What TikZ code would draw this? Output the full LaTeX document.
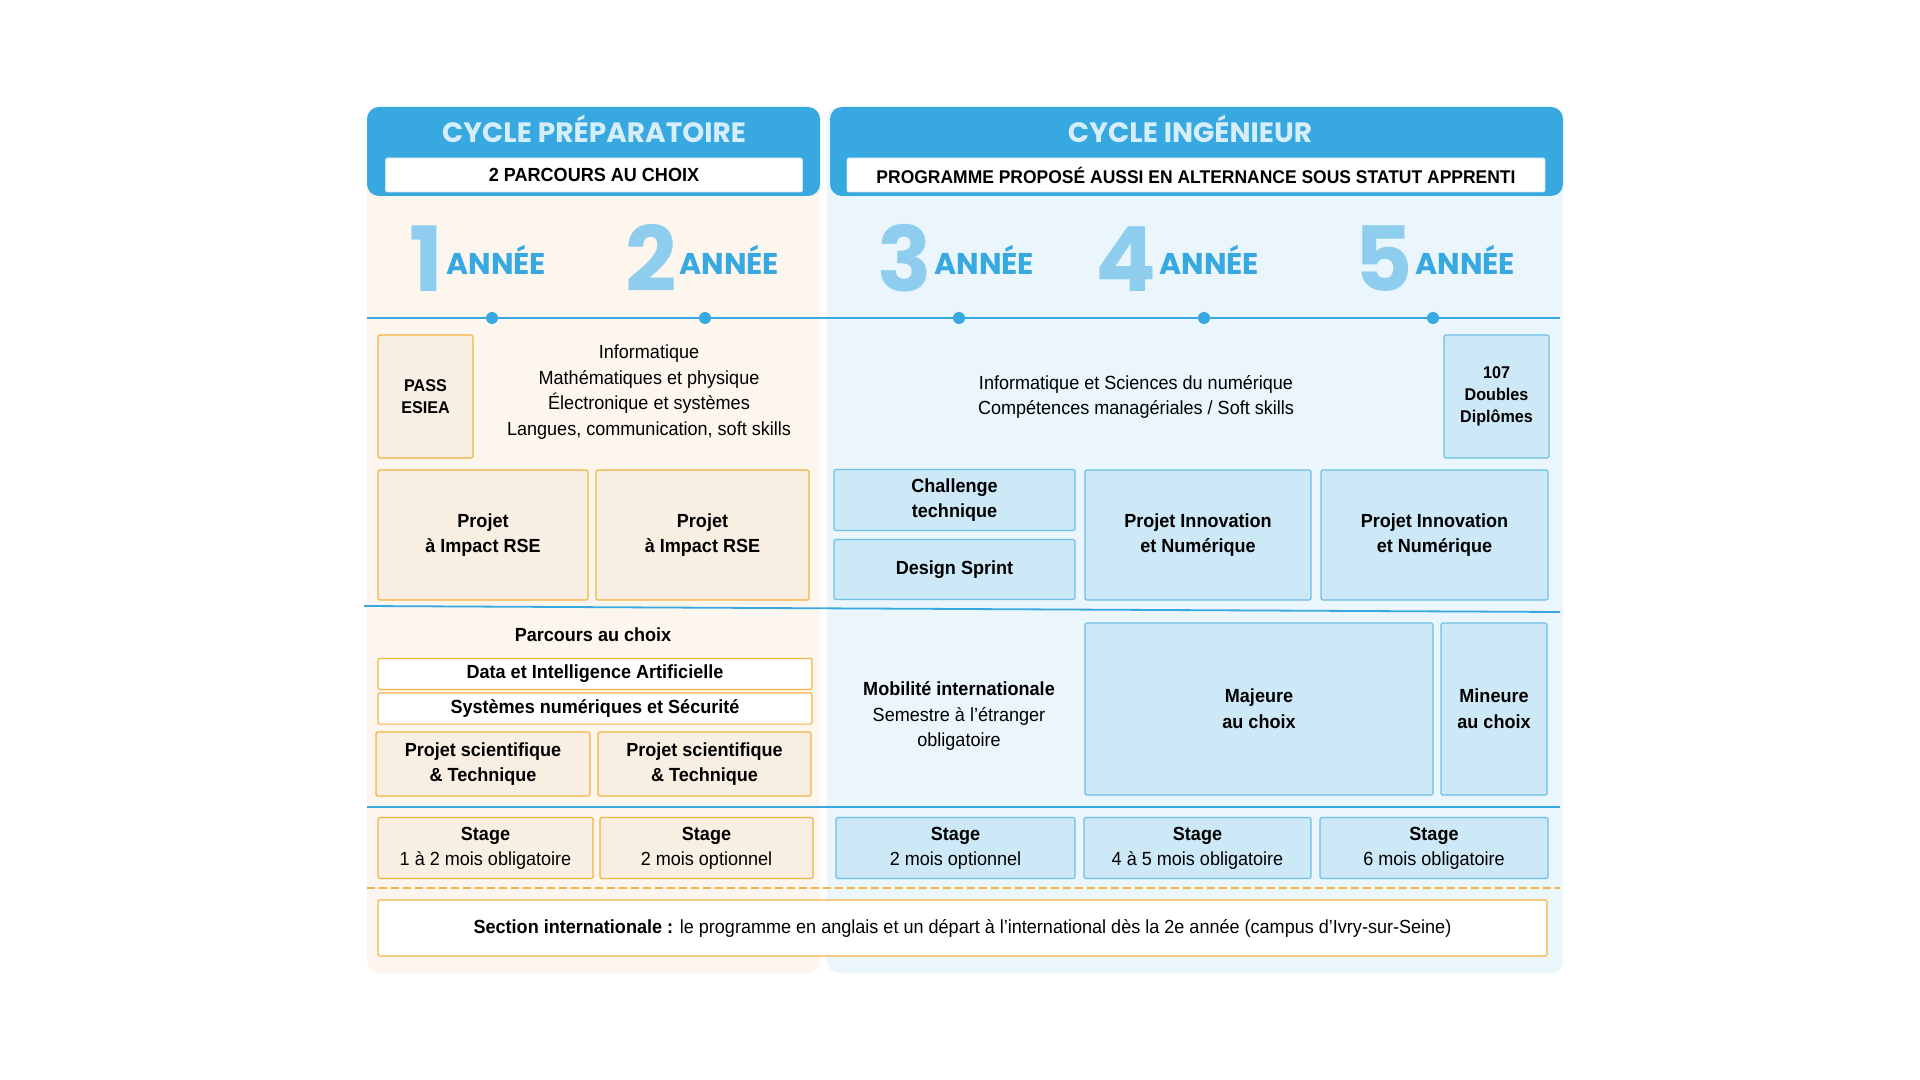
\documentclass[tikz,border=0pt]{standalone}
\usepackage{fontspec}
\setmainfont[FakeStretch=0.95]{Liberation Sans}
\newfontfamily\pop{Poppins}
\definecolor{hb}{HTML}{38A8E0}
\definecolor{lb}{HTML}{CDE8F6}
\definecolor{lbd}{HTML}{6DC0EA}
\definecolor{bg1}{HTML}{FCF6EE}
\definecolor{bg2}{HTML}{EAF5FC}
\definecolor{ob}{HTML}{F5B342}
\definecolor{bf}{HTML}{F8EEE2}
\definecolor{tt}{HTML}{D6EEFA}
\definecolor{num}{HTML}{8FCDEE}
\begin{document}
\begin{tikzpicture}[x=0.5pt,y=-0.5pt,
  bx/.style={draw,line width=0.6pt,rounded corners=1pt,align=center,font=\fontsize{9.5}{12.5}\selectfont},
  ob/.style={bx,draw=ob,fill=bf},
  bb/.style={bx,draw=lbd,fill=lb},
  wb/.style={bx,draw=ob,fill=white},
  txt/.style={align=center,font=\fontsize{9.5}{12.8}\selectfont},
  yr/.style={font=\pop\bfseries\fontsize{15}{16}\selectfont,text=hb,anchor=base west,inner sep=0},
  nm/.style={font=\pop\bfseries\fontsize{45}{45}\selectfont,text=num,anchor=base east,inner sep=0},
  dot/.style={circle,fill=hb,inner sep=0,minimum size=6pt}]
\useasboundingbox (0,0) rectangle (1920,1080);
\fill[white] (0,0) rectangle (1920,1080);
% panels
\fill[bg1,rounded corners=6pt] (367,107) rectangle (820,973);
\fill[bg2,rounded corners=6pt] (827,107) rectangle (1563,973);
\fill[hb,rounded corners=6pt] (367,107) rectangle (820,196);
\fill[hb,rounded corners=6pt] (830,107) rectangle (1563,196);
\node[font=\pop\bfseries\fontsize{14}{14}\selectfont,text=tt] (t1) at (594,129) {CYCLE PRÉPARATOIRE};
\node[font=\pop\bfseries\fontsize{14}{14}\selectfont,text=tt] (t2) at (1190,129) {CYCLE INGÉNIEUR};
\node[draw=lb,fill=white,rounded corners=1pt,minimum width=417*0.5pt,minimum height=34*0.5pt,font=\bfseries\fontsize{9.5}{10}\selectfont] (s1) at (594,175) {2 PARCOURS AU CHOIX};
\node[draw=lb,fill=white,rounded corners=1pt,minimum width=698*0.5pt,minimum height=34*0.5pt,font=\bfseries\fontsize{9.2}{10}\selectfont] (s2) at (1196,175) {PROGRAMME PROPOSÉ AUSSI EN ALTERNANCE SOUS STATUT APPRENTI};
% years
\foreach \n/\x in {1/444,2/677,3/932,4/1157,5/1413}{
  \node[nm] (n\n) at (\x,292) {\n};
  \node[yr] (a\n) at (\x+2,275) {ANNÉE};
}
% timeline
\coordinate (tl) at (367,318); \coordinate (tr) at (1560,318);
\draw[hb,line width=1pt] (tl) -- (tr);
\foreach \i/\x in {1/492,2/705,3/959,4/1204,5/1433} \node[dot] (d\i) at (\x,318) {};
% row 1
\node[ob,minimum width=95*0.5pt,minimum height=123*0.5pt,font=\bfseries\fontsize{8.5}{11}\selectfont] (pass) at (425.5,396.5) {PASS\\ESIEA};
\node[txt] (c1) at (649,392) {Informatique\\Mathématiques et physique\\Électronique et systèmes\\Langues, communication, soft skills};
\node[txt] (c2) at (1136,397) {Informatique et Sciences du numérique\\Compétences managériales / Soft skills};
\node[bb,minimum width=105*0.5pt,minimum height=123*0.5pt,font=\bfseries\fontsize{8.5}{11}\selectfont] (dd) at (1496.5,396.5) {107\\Doubles\\Diplômes};
% row 2
\tikzset{r2/.style={minimum height=130*0.5pt,font=\bfseries\fontsize{9.5}{12.8}\selectfont}}
\node[ob,r2,minimum width=210*0.5pt] (p1) at (483,535) {Projet\\à Impact RSE};
\node[ob,r2,minimum width=213*0.5pt] (p2) at (702.5,535) {Projet\\à Impact RSE};
\node[bb,minimum width=241*0.5pt,minimum height=61*0.5pt,font=\bfseries\fontsize{9.5}{12.8}\selectfont] (ch) at (954.5,500) {Challenge\\technique};
\node[bb,minimum width=241*0.5pt,minimum height=60*0.5pt,font=\bfseries\fontsize{9.5}{12.8}\selectfont] (ds) at (954.5,569.5) {Design Sprint};
\node[bb,r2,minimum width=226*0.5pt] (pi1) at (1198,535) {Projet Innovation\\et Numérique};
\node[bb,r2,minimum width=227*0.5pt] (pi2) at (1434.5,535) {Projet Innovation\\et Numérique};
\coordinate (l1a) at (364,606); \coordinate (l1b) at (1560,612);
\draw[hb,line width=0.9pt] (l1a) -- (l1b);
% row 3
\node[font=\bfseries\fontsize{9.5}{12}\selectfont] (pc) at (593,635) {Parcours au choix};
\node[wb,minimum width=434*0.5pt,minimum height=30*0.5pt,font=\bfseries\fontsize{9.5}{10}\selectfont] (dia) at (595,674) {Data et Intelligence Artificielle};
\node[wb,minimum width=434*0.5pt,minimum height=31*0.5pt,font=\bfseries\fontsize{9.5}{10}\selectfont] (sns) at (595,708.5) {Systèmes numériques et Sécurité};
\node[ob,minimum width=214*0.5pt,minimum height=64*0.5pt,font=\bfseries\fontsize{9.5}{12.8}\selectfont] (ps1) at (483,764) {Projet scientifique\\\& Technique};
\node[ob,minimum width=213*0.5pt,minimum height=64*0.5pt,font=\bfseries\fontsize{9.5}{12.8}\selectfont] (ps2) at (704.5,764) {Projet scientifique\\\& Technique};
\node[txt] (mob) at (959,716) {\textbf{Mobilité internationale}\\Semestre à l’étranger\\obligatoire};
\node[bb,minimum width=348*0.5pt,minimum height=172*0.5pt,font=\bfseries\fontsize{9.5}{12.8}\selectfont] (maj) at (1259,709) {Majeure\\au choix};
\node[bb,minimum width=106*0.5pt,minimum height=172*0.5pt,font=\bfseries\fontsize{9.5}{12.8}\selectfont] (min) at (1494,709) {Mineure\\au choix};
\coordinate (l2a) at (367,807); \coordinate (l2b) at (1560,807);
\draw[hb,line width=0.9pt] (l2a) -- (l2b);
% stages
\tikzset{st/.style={minimum height=61*0.5pt}}
\node[ob,st,minimum width=215*0.5pt] (st1) at (485.5,848) {\textbf{Stage}\\1 à 2 mois obligatoire};
\node[ob,st,minimum width=213*0.5pt] (st2) at (706.5,848) {\textbf{Stage}\\2 mois optionnel};
\node[bb,st,minimum width=239*0.5pt] (st3) at (955.5,848) {\textbf{Stage}\\2 mois optionnel};
\node[bb,st,minimum width=227*0.5pt] (st4) at (1197.5,848) {\textbf{Stage}\\4 à 5 mois obligatoire};
\node[bb,st,minimum width=228*0.5pt] (st5) at (1434,848) {\textbf{Stage}\\6 mois obligatoire};
\coordinate (l3a) at (367,888); \coordinate (l3b) at (1560,888);
\draw[ob,line width=0.9pt,dash pattern=on 4pt off 2pt] (l3a) -- (l3b);
\node[wb,minimum width=1169*0.5pt,minimum height=56*0.5pt] (sec) at (962.5,928) {\textbf{Section internationale :} le programme en anglais et un départ à l’international dès la 2e année (campus d’Ivry-sur-Seine)};
\end{tikzpicture}
\end{document}
